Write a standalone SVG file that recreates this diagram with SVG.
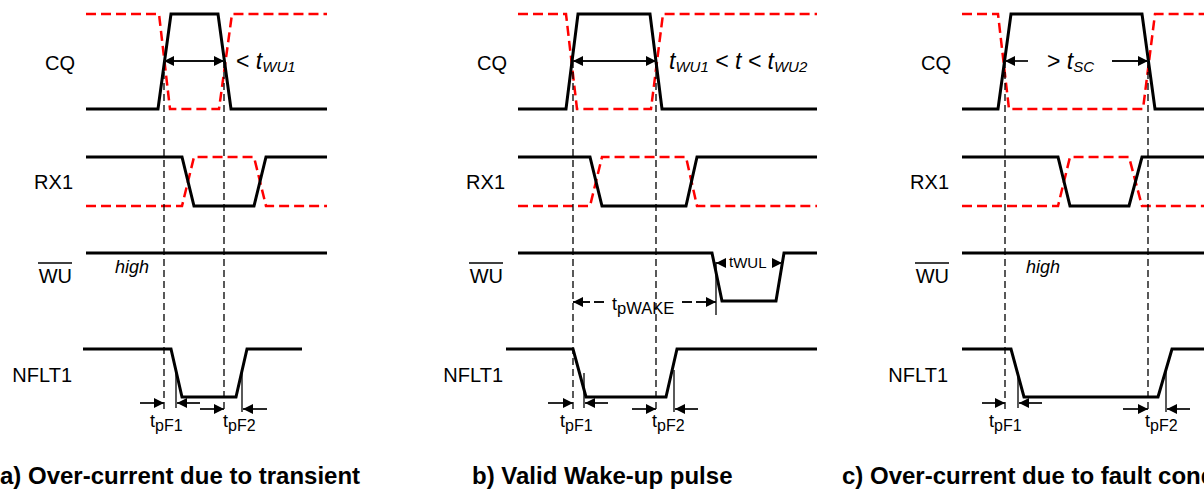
<svg xmlns="http://www.w3.org/2000/svg" width="1204" height="493" viewBox="0 0 1204 493">
<defs>
<style>
.w{fill:none;stroke:#000;stroke-width:3;stroke-linejoin:miter}
.r{fill:none;stroke:#f00;stroke-width:2.5;stroke-dasharray:10 5}
.d{fill:none;stroke:#000;stroke-width:1.3;stroke-dasharray:7 4}
.t{fill:none;stroke:#000;stroke-width:1.3}
.a{fill:none;stroke:#111;stroke-width:1.8}
text{font-family:"Liberation Sans",Arial,sans-serif;fill:#000}
.lbl{font-size:20px}
.sm{font-size:18px}
.cap{font-size:24px;font-weight:bold}
</style>
<marker id="ah" viewBox="0 0 10 10" refX="10" refY="5" markerWidth="10" markerHeight="10" markerUnits="userSpaceOnUse" orient="auto-start-reverse"><path d="M0,0 L10,5 L0,10 z" fill="#000"/></marker>
</defs>
<rect width="1204" height="493" fill="#fff"/>

<g id="panel-a">
<g id="a-labels">
<text class="lbl" x="75" y="70" text-anchor="end">CQ</text>
<text class="lbl" x="73" y="189" text-anchor="end">RX1</text>
<text class="lbl" x="72" y="283" text-anchor="end">WU</text>
<line x1="38" y1="263" x2="72" y2="263" stroke="#000" stroke-width="1.4"/>
<text class="lbl" x="72" y="382" text-anchor="end">NFLT1</text>
</g>
<g id="a-waves">
<path class="r" d="M86,14 H159 L170,109 H219 L232,14 H327"/>
<path class="w" d="M86,109 H158 L171,14 H218 L231,109 H327"/>
<path class="r" d="M86,206 H182 L194,157 H254 L266,206 H327"/>
<path class="w" d="M86,157 H182 L194,206 H254 L266,157 H327"/>
<path class="w" d="M86,253 H327"/>
<path class="w" d="M83,349 H171 L182,397 H236 L247,349 H302"/>
</g>
<g id="a-connectors">
<line class="d" x1="164" y1="61" x2="164" y2="410"/>
<line class="d" x1="224" y1="61" x2="224" y2="410"/>
<line class="a" x1="164" y1="61" x2="224" y2="61" stroke-width="1.5" marker-start="url(#ah)" marker-end="url(#ah)"/>
<line class="t" x1="176" y1="373" x2="176" y2="408"/>
<line class="t" x1="242" y1="370" x2="242" y2="412"/>
<line class="a" x1="140" y1="403" x2="164" y2="403" marker-end="url(#ah)"/>
<line class="a" x1="200" y1="403" x2="177" y2="403" marker-end="url(#ah)"/>
<line class="a" x1="200" y1="409" x2="224" y2="409" marker-end="url(#ah)"/>
<line class="a" x1="267" y1="409" x2="243" y2="409" marker-end="url(#ah)"/>
</g>
<text x="236" y="69" font-size="23">&lt; <tspan font-style="italic">t</tspan><tspan font-style="italic" font-size="15" dy="3">WU1</tspan></text>
<text x="115" y="273" font-style="italic" style="font-size:18px">high</text>
<text class="sm" x="150" y="427">t<tspan font-size="16" dy="4">pF1</tspan></text>
<text class="sm" x="223" y="427">t<tspan font-size="16" dy="4">pF2</tspan></text>
<text class="cap" x="0" y="484">a) Over-current due to transient</text>
</g>

<g id="panel-b">
<g id="b-labels">
<text class="lbl" x="507" y="70" text-anchor="end">CQ</text>
<text class="lbl" x="505" y="189" text-anchor="end">RX1</text>
<text class="lbl" x="503" y="283" text-anchor="end">WU</text>
<line x1="469" y1="263" x2="503" y2="263" stroke="#000" stroke-width="1.4"/>
<text class="lbl" x="503" y="382" text-anchor="end">NFLT1</text>
</g>
<g id="b-waves">
<path class="r" d="M518,14 H566 L577,109 H651 L663,14 H817"/>
<path class="w" d="M518,109 H566 L578,14 H650 L662,109 H817"/>
<path class="r" d="M518,206 H590 L602,157 H686 L697,206 H817"/>
<path class="w" d="M518,157 H590 L602,206 H686 L697,157 H817"/>
<path class="w" d="M518,253 H712 L722,301 H776 L784,253 H817"/>
<path class="w" d="M506,349 H573 L586,397 H666 L677,349 H817"/>
</g>
<g id="b-connectors">
<line class="d" x1="573" y1="61" x2="573" y2="410"/>
<line class="d" x1="656" y1="61" x2="656" y2="410"/>
<line class="a" x1="573" y1="61" x2="656" y2="61" stroke-width="1.5" marker-start="url(#ah)" marker-end="url(#ah)"/>
<line class="t" x1="716" y1="262" x2="716" y2="315"/>
<line class="a" x1="726" y1="263" x2="716" y2="263" marker-end="url(#ah)"/>
<line class="a" x1="772" y1="263" x2="782" y2="263" marker-end="url(#ah)"/>
<line class="a" x1="604" y1="302" x2="573" y2="302" stroke-width="1.5" stroke-dasharray="10 4" marker-end="url(#ah)"/>
<line class="a" x1="682" y1="302" x2="716" y2="302" stroke-width="1.5" stroke-dasharray="10 4" marker-end="url(#ah)"/>
<line class="t" x1="584" y1="373" x2="584" y2="408"/>
<line class="t" x1="674" y1="370" x2="674" y2="412"/>
<line class="a" x1="548" y1="403" x2="573" y2="403" marker-end="url(#ah)"/>
<line class="a" x1="608" y1="403" x2="585" y2="403" marker-end="url(#ah)"/>
<line class="a" x1="632" y1="409" x2="656" y2="409" marker-end="url(#ah)"/>
<line class="a" x1="698" y1="409" x2="675" y2="409" marker-end="url(#ah)"/>
</g>
<text x="669" y="69" font-size="23" font-style="italic">t<tspan font-size="15" dy="3">WU1</tspan><tspan font-size="23" dy="-3"> &lt; t &lt; t</tspan><tspan font-size="15" dy="3">WU2</tspan></text>
<text x="729" y="267" font-size="15">t<tspan dy="1">WUL</tspan></text>
<text class="sm" x="612" y="310">t<tspan font-size="16.5" dy="4">pWAKE</tspan></text>
<text class="sm" x="560" y="427">t<tspan font-size="16" dy="4">pF1</tspan></text>
<text class="sm" x="652" y="427">t<tspan font-size="16" dy="4">pF2</tspan></text>
<text class="cap" x="472" y="484">b) Valid Wake-up pulse</text>
</g>

<g id="panel-c">
<g id="c-labels">
<text class="lbl" x="951" y="70" text-anchor="end">CQ</text>
<text class="lbl" x="949" y="189" text-anchor="end">RX1</text>
<text class="lbl" x="949" y="283" text-anchor="end">WU</text>
<line x1="915" y1="263" x2="949" y2="263" stroke="#000" stroke-width="1.4"/>
<text class="lbl" x="948" y="382" text-anchor="end">NFLT1</text>
</g>
<g id="c-waves">
<path class="r" d="M962,14 H998 L1009,109 H1143 L1155,14 H1204"/>
<path class="w" d="M962,109 H998 L1011,14 H1142 L1155,109 H1204"/>
<path class="r" d="M962,206 H1058 L1070,157 H1129 L1142,206 H1204"/>
<path class="w" d="M962,157 H1058 L1070,206 H1129 L1142,157 H1204"/>
<path class="w" d="M962,253 H1204"/>
<path class="w" d="M962,349 H1011 L1024,397 H1158 L1172,349 H1204"/>
</g>
<g id="c-connectors">
<line class="d" x1="1005" y1="61" x2="1005" y2="410"/>
<line class="d" x1="1148" y1="61" x2="1148" y2="410"/>
<line class="a" x1="1028" y1="61" x2="1005" y2="61" stroke-width="1.5" marker-end="url(#ah)"/>
<line class="a" x1="1112" y1="61" x2="1148" y2="61" stroke-width="1.5" marker-end="url(#ah)"/>
<line class="t" x1="1018" y1="373" x2="1018" y2="408"/>
<line class="t" x1="1166" y1="370" x2="1166" y2="412"/>
<line class="a" x1="982" y1="403" x2="1005" y2="403" marker-end="url(#ah)"/>
<line class="a" x1="1042" y1="403" x2="1019" y2="403" marker-end="url(#ah)"/>
<line class="a" x1="1123" y1="409" x2="1148" y2="409" marker-end="url(#ah)"/>
<line class="a" x1="1190" y1="409" x2="1167" y2="409" marker-end="url(#ah)"/>
</g>
<text x="1047" y="69" font-size="23">&gt; <tspan font-style="italic">t</tspan><tspan font-style="italic" font-size="15" dy="3">SC</tspan></text>
<text x="1026" y="273" font-style="italic" style="font-size:18px">high</text>
<text class="sm" x="989" y="427">t<tspan font-size="16" dy="4">pF1</tspan></text>
<text class="sm" x="1145" y="427">t<tspan font-size="16" dy="4">pF2</tspan></text>
<text class="cap" x="842" y="484">c) Over-current due to fault cond</text>
</g>
</svg>
